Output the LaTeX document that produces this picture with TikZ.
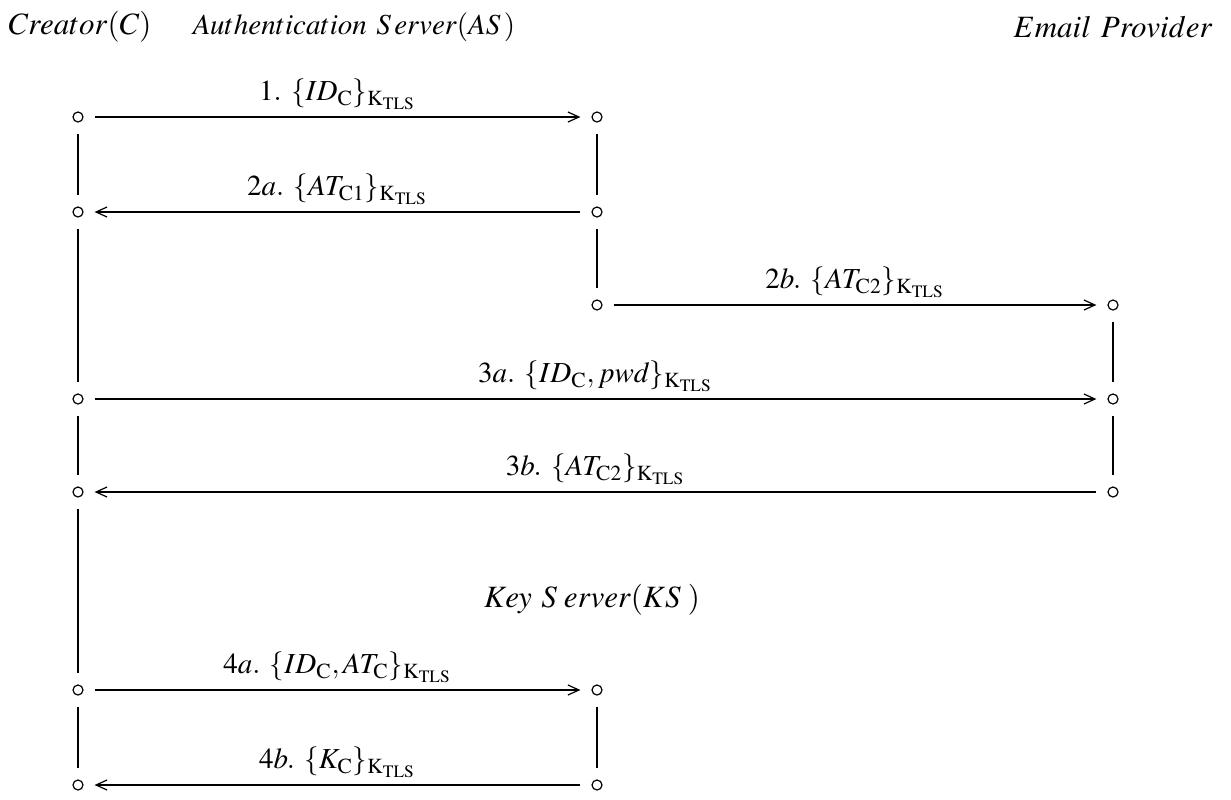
\documentclass[tikz,border=0pt]{standalone}
\usepackage{mathptmx}
\usetikzlibrary{arrows.meta}

\begin{document}
\begin{tikzpicture}[x = 0.5pt, y = -0.5pt, every node/.style = {font = \fontsize{14.5}{17}\selectfont},
	party/.style = {font = \fontsize{15.5}{18}\selectfont},
	pt/.style = {circle, draw = black, line width = 0.6pt, minimum size = 5pt, inner sep = 0pt},
	link/.style = {line width = 0.6pt, shorten < = 5.5pt, shorten > = 5.5pt},
	msg/.style = {link, -{Straight Barb[length = 5.5pt, width = 5pt]}}]

		\useasboundingbox (0, 0) rectangle (1231, 799);

		% party names
		\node[party] (C)  at (  80,  27) {$Creator(C)$};
		\node[font = \fontsize{14.5}{17}\selectfont] (AS) at ( 354,  27) {$Authentication\ S\,erver(AS\,)$};
		\node[party] (EP) at (1113,  27) {$Email\ Provider$};
		\node[party] (KS) at ( 592, 600) {$Key\ S\;erver(KS\;)$};

		% points on the time lines
		\node[pt] (c1)  at (  78, 117) {};
		\node[pt] (c2)  at (  78, 212) {};
		\node[pt] (c3a) at (  78, 399) {};
		\node[pt] (c3b) at (  78, 492) {};
		\node[pt] (c4a) at (  78, 690) {};
		\node[pt] (c4b) at (  78, 785) {};
		\node[pt] (a1)  at ( 597, 117) {};
		\node[pt] (a2)  at ( 597, 212) {};
		\node[pt] (a2b) at ( 597, 305) {};
		\node[pt] (e2b) at (1113, 305) {};
		\node[pt] (e3a) at (1113, 399) {};
		\node[pt] (e3b) at (1113, 492) {};
		\node[pt] (k4a) at ( 597, 690) {};
		\node[pt] (k4b) at ( 597, 785) {};

		\foreach \from/\to in {c1/c2, c2/c3a, c3a/c3b, c3b/c4a, c4a/c4b, a1/a2, a2/a2b, e2b/e3a, e3a/e3b, k4a/k4b}
			\draw[link] (\from) -- (\to);

		\foreach \from/\txt/\to in {c1/{$1.\ \{ID_{\mathrm{C}}\}_{\mathrm{K_{TLS}}}$}/a1,
			a2/{$2a.\ \{AT_{\mathrm{C1}}\}_{\mathrm{K_{TLS}}}$}/c2,
			a2b/{$2b.\ \{AT_{\mathrm{C2}}\}_{\mathrm{K_{TLS}}}$}/e2b,
			c3a/{$3a.\ \{ID_{\mathrm{C}}, pwd\}_{\mathrm{K_{TLS}}}$}/e3a,
			e3b/{$3b.\ \{AT_{\mathrm{C2}}\}_{\mathrm{K_{TLS}}}$}/c3b,
			c4a/{$4a.\ \{ID_{\mathrm{C}}, AT_{\mathrm{C}}\}_{\mathrm{K_{TLS}}}$}/k4a,
			k4b/{$4b.\ \{K_{\mathrm{C}}\}_{\mathrm{K_{TLS}}}$}/c4b}
			\draw[msg] (\from) -- node[above] {\txt} (\to);

\end{tikzpicture}
\end{document}
